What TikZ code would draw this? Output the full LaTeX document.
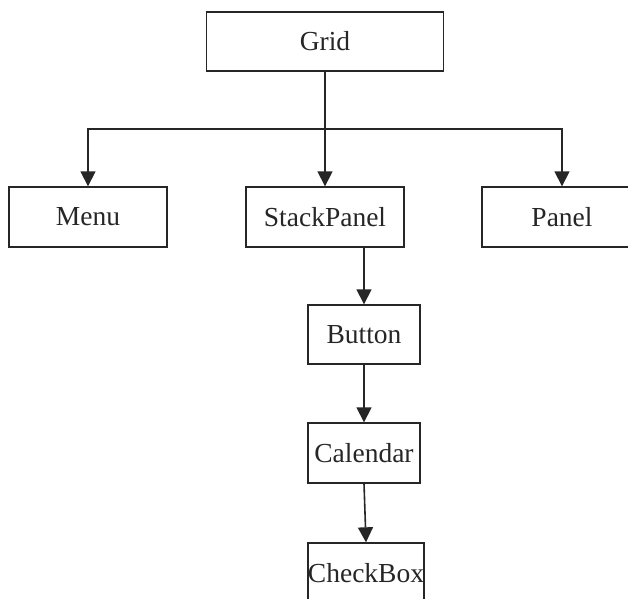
\documentclass[tikz,border=0pt]{standalone}
\usepackage{fontspec}
\setmainfont{Liberation Serif}
\usetikzlibrary{arrows.meta}
\tikzset{
  box/.style={draw=black!85, line width=1.4pt, fill=white, minimum height=60pt,
    inner sep=0pt, text=black!85, font=\fontsize{27.5}{32}\selectfont},
  link/.style={draw=black!85, line width=1.6pt},
  arrow/.style={link, -{Triangle[length=15pt,width=15pt]}}
}
\begin{document}
\begin{tikzpicture}[x=1pt,y=1pt]
  \clip (0,0) rectangle (628,-598);
  \fill[white] (0,0) rectangle (628,-598);
  % top-level container
  \node[box, minimum width=237pt, minimum height=59pt] (grid) at (325,-41.5) {Grid};
  % children of the grid
  \node[box, minimum width=158pt] (menu)  at (88,-217)  {Menu};
  \node[box, minimum width=158pt] (stack) at (325,-217) {StackPanel};
  \node[box, minimum width=160pt] (panel) at (562,-217) {Panel};
  % children of the stack panel
  \node[box, minimum width=112pt, minimum height=59pt] (button)   at (364,-334.5) {Button};
  \node[box, minimum width=112pt] (calendar) at (364,-453)   {Calendar};
  \node[box, minimum width=113pt] (checkbox) at (366,-573) {CheckBox};
  % branch point below the grid
  \coordinate (bus) at (325,-129);
  \draw[link] (grid.south) -- (bus);
  \draw[arrow] (bus) -| (menu.north);
  \draw[arrow] (bus) -| (panel.north);
  \draw[arrow] (bus) -- (stack.north);
  % vertical chain
  \draw[arrow] (button.north |- stack.south) -- (button.north);
  \draw[arrow] (button.south) -- (calendar.north);
  \draw[arrow] (calendar.south) -- (checkbox.north);
\end{tikzpicture}
\end{document}
